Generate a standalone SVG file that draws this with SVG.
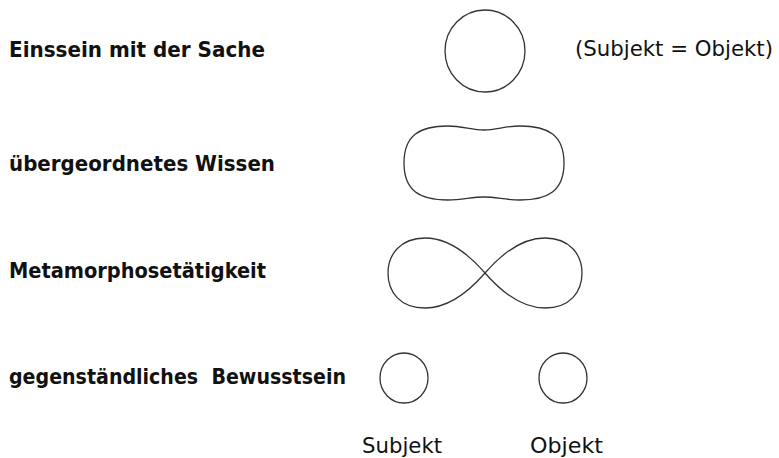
<svg xmlns="http://www.w3.org/2000/svg" width="779" height="458" viewBox="0 0 779 458">
<style>
.lbl{font-family:"DejaVu Sans Condensed","DejaVu Sans",sans-serif;font-weight:bold;font-size:22px;fill:#111;white-space:pre}
.reg{font-family:"DejaVu Sans Condensed","DejaVu Sans",sans-serif;font-size:22px;fill:#111}
.sh{fill:none;stroke:#333;stroke-width:1.3}
</style>
<rect width="779" height="458" fill="#fff"/>
<g id="einssein">
<text class="lbl" x="9" y="57" textLength="256" lengthAdjust="spacingAndGlyphs">Einssein mit der Sache</text>
<ellipse class="sh" cx="485" cy="51" rx="40" ry="41"/>
<text class="reg" x="575" y="56" textLength="198" lengthAdjust="spacingAndGlyphs">(Subjekt = Objekt)</text>
</g>
<g id="wissen">
<text class="lbl" x="9" y="171" textLength="266" lengthAdjust="spacingAndGlyphs">übergeordnetes Wissen</text>
<path class="sh" d="M484 130 C472 130 462 126 448 126 C420 126 404 135 404 163 C404 191 420 200 448 200 C462 200 472 197 484 197 C496 197 506 200 520 200 C548 200 564 191 564 163 C564 135 548 126 520 126 C506 126 496 130 484 130 Z"/>
</g>
<g id="metamorphose">
<text class="lbl" x="9" y="278" textLength="257" lengthAdjust="spacingAndGlyphs">Metamorphosetätigkeit</text>
<path class="sh" d="M485 273 C505 250 525 238 545 238 C570 238 582 255 582 273 C582 292 570 308 545 308 C525 308 505 296 485 273 C465 250 445 238 425 238 C400 238 388 255 388 273 C388 292 400 308 425 308 C445 308 465 296 485 273 Z"/>
</g>
<g id="bewusstsein">
<text class="lbl" x="9" y="384" textLength="337" lengthAdjust="spacingAndGlyphs">gegenständliches  Bewusstsein</text>
<ellipse class="sh" cx="404" cy="378" rx="24" ry="25"/>
<ellipse class="sh" cx="563" cy="378" rx="24" ry="25"/>
<text class="reg" x="362" y="453" textLength="80" lengthAdjust="spacingAndGlyphs">Subjekt</text>
<text class="reg" x="530" y="453" textLength="73" lengthAdjust="spacingAndGlyphs">Objekt</text>
</g>
<g id="connectors"/>
</svg>
